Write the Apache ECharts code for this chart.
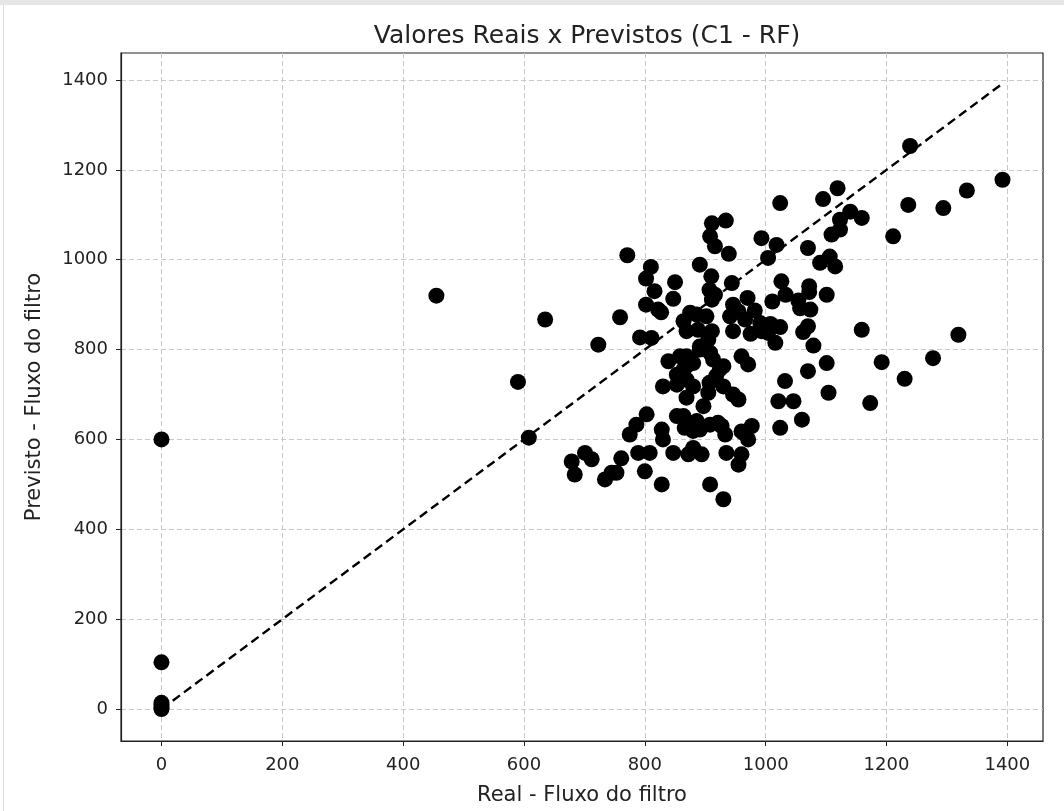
<!DOCTYPE html>
<html>
<head>
<meta charset="utf-8">
<title>Valores Reais x Previstos (C1 - RF)</title>
<script src="https://cdn.jsdelivr.net/npm/echarts@6/dist/echarts.min.js"></script>
<style>
    html, body { margin: 0; padding: 0; background: #fff; }
    #frame { position: absolute; left: 0; top: 0; width: 1064px; height: 811px; border-top: 5px solid #e6e6e6; box-sizing: border-box; }
    #frame:before { content: ""; position: absolute; left: 3px; top: 0; bottom: 0; border-left: 1px solid #dcdcdc; }
    #chart { position: absolute; left: 0; top: -5px; width: 1064px; height: 811px; }
</style>
</head>
<body>
<div id="frame"><div id="chart"></div></div>
<script>
// valores: real (x) e previsto (y)
var realValues = [
    0, 0, 0, 0, 0, 0, 455, 590, 608, 635,
    679, 684, 701, 712, 723, 734, 745, 753, 759, 761,
    771, 775, 786, 789, 800, 808, 803, 792, 811, 810,
    802, 816, 802, 822, 827, 850, 847, 828, 828, 830,
    830, 839, 847, 853, 853, 853, 858, 869, 869, 869,
    872, 880, 880, 880, 886, 894, 897, 905, 908, 908,
    927, 933, 935, 955, 930, 960, 963, 977, 971, 960,
    891, 886, 902, 869, 888, 911, 905, 891, 911, 934,
    908, 916, 939, 910, 944, 907, 916, 911, 946, 970,
    955, 982, 941, 966, 991, 993, 975, 946, 864, 875,
    869, 880, 864, 913, 930, 924, 960, 971, 891, 908,
    869, 907, 918, 930, 946, 955, 864, 880, 866, 891,
    921,
    1024, 1095, 1119, 1236, 1211, 1159, 1140, 1123, 1123, 1109,
    993, 1018, 1004, 1070, 1090, 1106, 1115, 1026, 1033, 1072,
    1072, 1101, 1011, 1054, 1057, 1074, 1008, 1024, 1004, 1016,
    1062, 1070, 1079, 1159, 1239, 1392, 1333, 1294, 1319, 1277,
    1192, 1230, 1173, 1101, 1070, 1032, 1104, 1021, 1046, 1060,
    1024
];
var predictedValues = [
    0, 4, 9, 14, 104, 600, 920, 728, 604, 867,
    551, 522, 570, 556, 811, 511, 526, 526, 872, 558,
    1010, 611, 633, 570, 529, 570, 656, 827, 826, 984,
    958, 930, 900, 889, 883, 950, 913, 500, 622, 600,
    718, 774, 570, 744, 722, 652, 785, 763, 693, 630,
    567, 718, 619, 581, 641, 567, 674, 704, 633, 500,
    630, 611, 570, 544, 467, 567, 615, 630, 600, 618,
    989, 878, 874, 841, 844, 841, 822, 807, 1081, 1087,
    1052, 1030, 1013, 963, 948, 933, 922, 911, 900, 915,
    885, 887, 874, 867, 859, 841, 835, 841, 863, 882,
    785, 770, 756, 778, 763, 756, 785, 767, 800, 793,
    733, 726, 741, 718, 700, 689, 652, 637, 626, 622,
    637,
    1126, 1135, 1159, 1122, 1052, 1093, 1107, 1089, 1067, 1056,
    1048, 1033, 1004, 1026, 993, 1007, 985, 952, 922, 941,
    928, 922, 907, 909, 892, 889, 857, 850, 837, 815,
    839, 852, 809, 844, 1253, 1178, 1154, 1115, 833, 781,
    772, 735, 681, 770, 752, 730, 704, 685, 685, 644,
    626
];
var xTicks = [0, 200, 400, 600, 800, 1000, 1200, 1400];
var yTicks = [0, 200, 400, 600, 800, 1000, 1200, 1400];

var points = [];
for (var i = 0; i < realValues.length; i++) {
    points.push([realValues[i], predictedValues[i]]);
}
// linha ideal (y = x) entre o menor e o maior valor real
var lo = Math.min.apply(null, realValues);
var hi = Math.max.apply(null, realValues);

var font = 'DejaVu Sans';
var plain = function (v) { return String(v); };
var dom = document.getElementById('chart');
var myChart = echarts.init(dom);
var option = {
    animation: false,
    textStyle: {fontFamily: font},
    title: {
        text: 'Valores Reais x Previstos (C1 - RF)',
        left: 582,
        textAlign: 'center',
        top: 19,
        textStyle: {fontFamily: font, fontSize: 25, fontWeight: 'normal', color: '#222'}
    },
    grid: {
        left: 121,
        right: 21,
        top: 53,
        bottom: 69,
        show: true,
        borderColor: '#222',
        borderWidth: 1.2
    },
    xAxis: {
        type: 'value',
        min: -67,
        max: 1459,
        name: 'Real - Fluxo do filtro',
        nameLocation: 'middle',
        nameGap: 44,
        nameTextStyle: {fontFamily: font, fontSize: 21, color: '#222'},
        axisLine: {show: true, onZero: false, lineStyle: {color: '#222', width: 1.2}},
        axisTick: {show: true, customValues: xTicks, length: 5, lineStyle: {color: '#222'}},
        axisLabel: {customValues: xTicks, formatter: plain, fontFamily: font, fontSize: 18, color: '#222', margin: 15},
        splitLine: {show: true, lineStyle: {color: '#c8c8c8', type: [5, 3], width: 1}}
    },
    yAxis: {
        type: 'value',
        min: -71,
        max: 1460,
        name: 'Previsto - Fluxo do filtro',
        nameLocation: 'middle',
        nameGap: 76,
        nameTextStyle: {fontFamily: font, fontSize: 21, color: '#222'},
        axisLine: {show: true, onZero: false, lineStyle: {color: '#222', width: 1.2}},
        axisTick: {show: true, customValues: yTicks, length: 5, lineStyle: {color: '#222'}},
        axisLabel: {customValues: yTicks, formatter: plain, fontFamily: font, fontSize: 18, color: '#222', margin: 13},
        splitLine: {show: true, lineStyle: {color: '#c8c8c8', type: [5, 3], width: 1}}
    },
    series: [
        {
            name: 'Previsto',
            type: 'scatter',
            data: points,
            symbolSize: 16,
            itemStyle: {color: '#000', opacity: 1}
        },
        {
            name: 'Ideal',
            type: 'line',
            data: [[lo, lo], [hi, hi]],
            symbol: 'none',
            z: 5,
            lineStyle: {color: '#000', width: 2.4, type: [9, 5]}
        }
    ]
};
myChart.setOption(option);
</script>
</body>
</html>
